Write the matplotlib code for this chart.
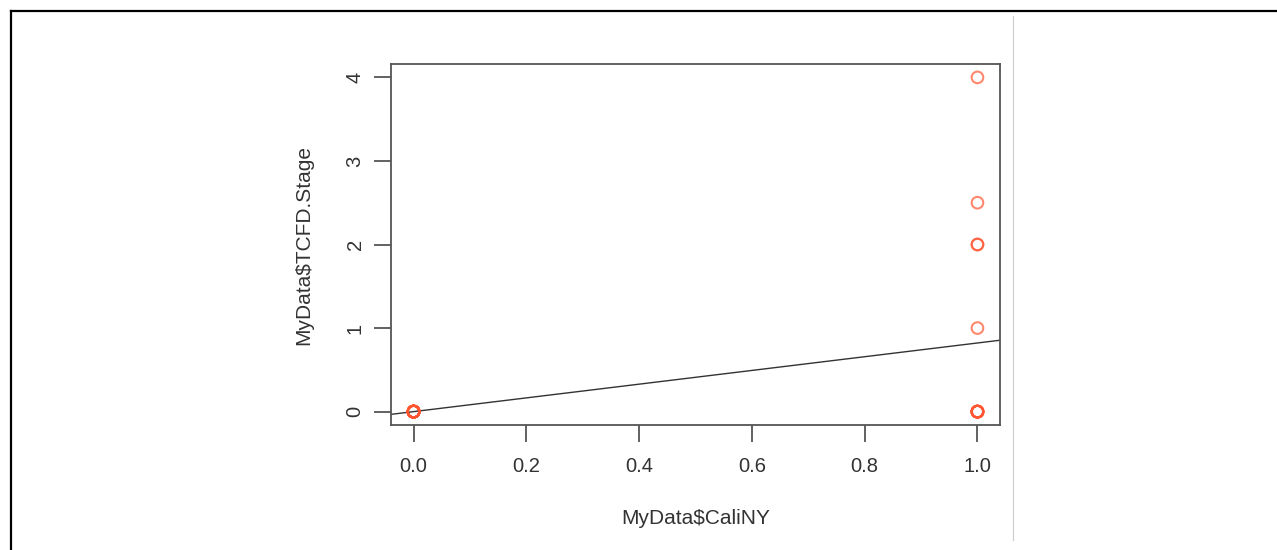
import numpy as np
import matplotlib
matplotlib.use('Agg')
import matplotlib.pyplot as plt
from matplotlib.lines import Line2D

plt.rcParams['font.family'] = ['Liberation Sans', 'DejaVu Sans']

# Data (R plot of TCFD.Stage vs CaliNY)
cali_ny = [0] * 20 + [1] * 14
tcfd_stage = [0] * 20 + [4, 2.5, 2, 2, 1, 0, 0, 0, 0, 0, 0, 0, 0, 0]

x = np.array(cali_ny, dtype=float)
y = np.array(tcfd_stage, dtype=float)
slope, intercept = np.polyfit(x, y, 1)

fig = plt.figure(figsize=(12.77, 5.5), dpi=100)
ax = fig.add_axes([0.3062, 0.2273, 0.4769, 0.6563])

ax.scatter(x, y, s=70, facecolors='none', edgecolors='#ff5530', linewidths=1.5, alpha=0.7, zorder=3)
ax.axline((0, intercept), slope=slope, color='#333333', lw=1.0)

ax.set_xlim(-0.04, 1.04)
ax.set_ylim(-0.16, 4.16)
ax.set_xticks([0.0, 0.2, 0.4, 0.6, 0.8, 1.0])
ax.set_xticklabels(['0.0', '0.2', '0.4', '0.6', '0.8', '1.0'])
ax.set_yticks([0, 1, 2, 3, 4])
for lab in ax.get_yticklabels():
    lab.set_rotation(90)
    lab.set_va('center')

txt = '#333333'
ax.tick_params(axis='both', labelsize=14.5, colors='#555555', labelcolor=txt,
               length=12, width=1.3)
ax.tick_params(axis='x', pad=11)
ax.tick_params(axis='y', pad=7)
for sp in ax.spines.values():
    sp.set_color('#555555')
    sp.set_linewidth(1.3)

ax.set_xlabel('MyData$CaliNY', fontsize=15, color=txt, labelpad=24)
ax.set_ylabel('MyData$TCFD.Stage', fontsize=15, color=txt, labelpad=23)

# screenshot frame: top and left border, and a thin grey divider
fig.add_artist(Line2D([11 / 1277, 1], [1 - 11 / 550, 1 - 11 / 550], color='black', lw=1.6))
fig.add_artist(Line2D([11 / 1277, 11 / 1277], [0, 1 - 11 / 550], color='black', lw=1.6))
fig.add_artist(Line2D([1013 / 1277, 1013 / 1277], [1 - 540 / 550, 1 - 16 / 550], color='#cccccc', lw=0.8))

fig.savefig('out.png', dpi=100)
